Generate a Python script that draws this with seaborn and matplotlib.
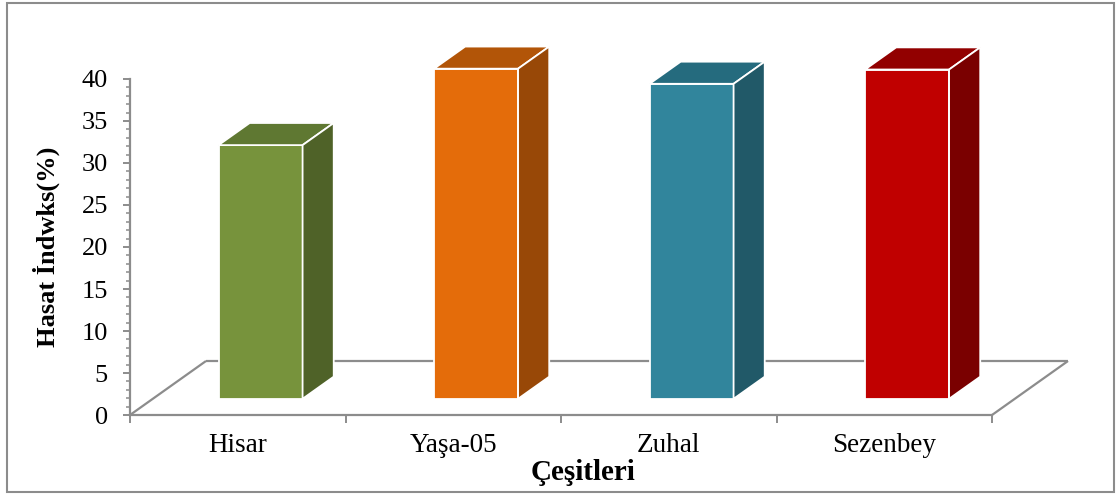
import matplotlib
matplotlib.use("Agg")
import matplotlib.pyplot as plt
import matplotlib.transforms as mtransforms
from matplotlib.patches import Polygon, Rectangle
from matplotlib.collections import LineCollection
from matplotlib.ticker import MultipleLocator, FixedLocator
import numpy as np
import pandas as pd
import seaborn as sns

# Harvest index per cultivar
cultivars = ["Hisar", "Yaşa-05", "Zuhal", "Sezenbey"]
harvest_index = [30.2, 39.3, 37.5, 39.2]

# Face shades for the pseudo-3D columns
face_colors = ["#77933C", "#E46C0A", "#31859C", "#C00000"]
top_colors = ["#5F7832", "#B25508", "#256B7E", "#920000"]
side_colors = ["#4F6228", "#984807", "#215968", "#7A0000"]

sns.set_style("white")
plt.rcParams["font.family"] = ["Liberation Serif", "DejaVu Serif"]

W, H = 1117, 495
fig = plt.figure(figsize=(W / 100, H / 100), dpi=100)
ax = fig.add_axes([130 / W, (H - 415) / H, (992 - 130) / W, (415 - 79) / H])

df = pd.DataFrame({"Çeşit": cultivars, "HI": harvest_index})
sns.barplot(data=df, x="Çeşit", y="HI", hue="Çeşit", palette=face_colors,
            width=0.39, saturation=1, dodge=False, errorbar=None,
            legend=False, ax=ax, edgecolor="white", linewidth=1.3, zorder=3)
ax.set_xlim(-0.5, 3.5)
ax.set_ylim(0, 40)

GRAY = "#8C8C8C"
# floor depth vector in pixels (right, up)
DEPTH = np.array([76.0, 54.0])
front = 0.30 * DEPTH
back = 0.71 * DEPTH
d = back - front
ident = mtransforms.IdentityTransform()

# floor outline (the front edge is the x-axis spine)
p0 = ax.transData.transform((-0.5, 0))
p1 = ax.transData.transform((3.5, 0))
floor = LineCollection([[p0, p0 + DEPTH], [p0 + DEPTH, p1 + DEPTH], [p1 + DEPTH, p1]],
                       colors=GRAY, linewidths=1.6, transform=ident, zorder=1)
floor.set_clip_on(False)
ax.add_collection(floor)

bars = sorted(list(ax.patches), key=lambda p: p.get_x())
shift = mtransforms.Affine2D().translate(*front)
for bar, top_c, side_c in zip(bars, top_colors, side_colors):
    bar.set_transform(ax.transData + shift)
    bar.set_clip_on(False)
    x0, w, h = bar.get_x(), bar.get_width(), bar.get_height()
    ftl = ax.transData.transform((x0, h)) + front
    ftr = ax.transData.transform((x0 + w, h)) + front
    fbr = ax.transData.transform((x0 + w, 0)) + front
    top = [ftl, ftr, ftr + d, ftl + d]
    side = [ftr, ftr + d, fbr + d, fbr]
    for pts, c in ((top, top_c), (side, side_c)):
        ax.add_patch(Polygon(pts, closed=True, facecolor=c, edgecolor="white",
                             linewidth=1.3, transform=ident, clip_on=False, zorder=3))

for s in ("top", "right"):
    ax.spines[s].set_visible(False)
for s in ("left", "bottom"):
    ax.spines[s].set_color(GRAY)
    ax.spines[s].set_linewidth(1.6)

ax.yaxis.set_major_locator(MultipleLocator(5))
ax.yaxis.set_minor_locator(MultipleLocator(1))
ax.tick_params(axis="y", which="major", left=True, direction="out", length=5,
               width=1.4, color=GRAY, labelsize=19, pad=11, labelcolor="black")
ax.tick_params(axis="y", which="minor", left=True, direction="out", length=3,
               width=1.1, color=GRAY)
ax.xaxis.set_minor_locator(FixedLocator([-0.5, 0.5, 1.5, 2.5, 3.5]))
ax.tick_params(axis="x", which="major", bottom=True, length=0, labelsize=19.5,
               pad=13, labelcolor="black")
ax.tick_params(axis="x", which="minor", bottom=True, direction="out", length=6,
               width=1.4, color=GRAY)

ax.set_ylabel("Hasat İndwks(%)", fontsize=19, fontweight="bold", color="black")
ax.yaxis.set_label_coords((60 - 130) / 862, 0.5)
ax.set_xlabel("Çeşitleri", fontsize=21, fontweight="bold", color="black")
ax.xaxis.set_label_coords((583 - 130) / 862, -0.132)

fig.patches.append(Rectangle((7 / W, 3 / H), (1114 - 7) / W, (492 - 3) / H,
                             transform=fig.transFigure, fill=False,
                             edgecolor=GRAY, linewidth=1.5))

fig.savefig("out.png", dpi=100)
